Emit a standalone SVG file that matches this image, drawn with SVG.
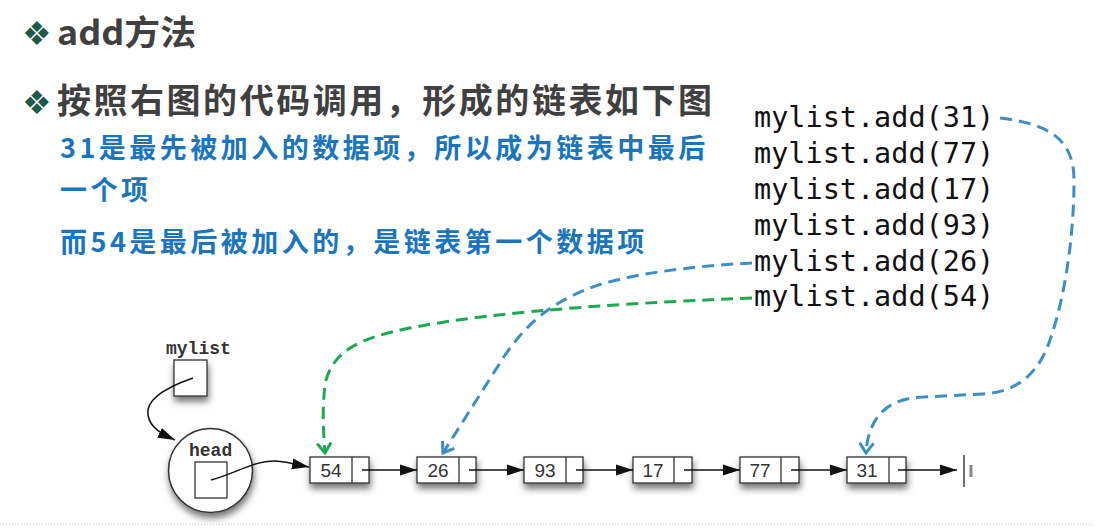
<svg xmlns="http://www.w3.org/2000/svg" width="1095" height="530" viewBox="0 0 1095 530">
  <defs>
    <style>
      .title { font-family: "Noto Sans CJK SC", "Noto Sans", sans-serif; font-weight: bold; fill: #404040; }
      .bullet { font-family: "DejaVu Sans", sans-serif; fill: #1E5A4A; font-size: 33px; }
      .blue { font-family: "Noto Sans CJK SC", sans-serif; font-weight: bold; fill: #1B75BC; font-size: 27px; letter-spacing: 3.5px; }
      .code { font-family: "DejaVu Sans Mono", "Liberation Mono", monospace; fill: #111; font-size: 28.5px; }
      .box { fill: #fff; stroke: #333; stroke-width: 1.3; }
      .num { font-family: "Liberation Sans", Arial, sans-serif; font-size: 19px; fill: #333; text-anchor: middle; }
      .mono { font-family: "Liberation Mono", "Courier New", monospace; font-size: 18px; fill: #333; font-weight: bold; }
      .link { fill: none; stroke: #111; stroke-width: 1.5; }
      .dash { fill: none; stroke-width: 3; stroke-dasharray: 12 7; }
    </style>
    <filter id="shadow" x="-30%" y="-30%" width="160%" height="190%">
      <feDropShadow dx="1" dy="5" stdDeviation="3.5" flood-color="#000" flood-opacity="0.55"/>
    </filter>
    <marker id="arr" markerUnits="userSpaceOnUse" markerWidth="18" markerHeight="14" refX="17" refY="7" orient="auto">
      <path d="M0,1.5 L17,7 L0,12.5 Z" fill="#111"/>
    </marker>
    <marker id="vblue" markerUnits="userSpaceOnUse" markerWidth="14" markerHeight="16" refX="11" refY="8" orient="auto">
      <path d="M1,1 L11,8 L1,15" fill="none" stroke="#3B8FC4" stroke-width="3"/>
    </marker>
    <marker id="vgreen" markerUnits="userSpaceOnUse" markerWidth="14" markerHeight="16" refX="11" refY="8" orient="auto">
      <path d="M1,1 L11,8 L1,15" fill="none" stroke="#1DAA4F" stroke-width="3"/>
    </marker>
  </defs>
  <rect width="1095" height="530" fill="#fff"/>

  <g id="titles">
    <text class="bullet" x="22" y="45">❖</text>
    <text class="title" x="57" y="45" font-size="34" textLength="139" lengthAdjust="spacingAndGlyphs">add方法</text>
    <text class="bullet" x="22" y="114">❖</text>
    <text class="title" x="57" y="113" font-size="34" textLength="655" lengthAdjust="spacing">按照右图的代码调用，形成的链表如下图</text>
  </g>

  <g id="notes">
    <text class="blue" x="60" y="158">31是最先被加入的数据项，所以成为链表中最后</text>
    <text class="blue" x="60" y="200">一个项</text>
    <text class="blue" x="60" y="252">而54是最后被加入的，是链表第一个数据项</text>
  </g>

  <g id="code">
    <text class="code" x="754" y="127">mylist.add(31)</text>
    <text class="code" x="754" y="163">mylist.add(77)</text>
    <text class="code" x="754" y="199">mylist.add(17)</text>
    <text class="code" x="754" y="235">mylist.add(93)</text>
    <text class="code" x="754" y="271">mylist.add(26)</text>
    <text class="code" x="754" y="306">mylist.add(54)</text>
  </g>

  <g id="mylist">
    <text class="mono" x="166" y="354">mylist</text>
    <rect class="box" x="174" y="360" width="33" height="36" filter="url(#shadow)"/>
  </g>

  <g id="head">
    <circle cx="210.5" cy="470.5" r="42" fill="#fff" stroke="#333" stroke-width="1.5" filter="url(#shadow)"/>
    <text class="mono" x="189" y="456">head</text>
    <rect class="box" x="195" y="462" width="32" height="36"/>
  </g>

  <g id="node54">
    <rect class="box" x="310" y="457" width="59" height="26" filter="url(#shadow)"/>
    <line x1="352" y1="457" x2="352" y2="483" stroke="#333" stroke-width="1.3"/>
    <text class="num" x="331" y="477">54</text>
  </g>
  <g id="node26">
    <rect class="box" x="417" y="457" width="59" height="26" filter="url(#shadow)"/>
    <line x1="459" y1="457" x2="459" y2="483" stroke="#333" stroke-width="1.3"/>
    <text class="num" x="438" y="477">26</text>
  </g>
  <g id="node93">
    <rect class="box" x="524" y="457" width="59" height="26" filter="url(#shadow)"/>
    <line x1="566" y1="457" x2="566" y2="483" stroke="#333" stroke-width="1.3"/>
    <text class="num" x="545" y="477">93</text>
  </g>
  <g id="node17">
    <rect class="box" x="633" y="457" width="59" height="26" filter="url(#shadow)"/>
    <line x1="674" y1="457" x2="674" y2="483" stroke="#333" stroke-width="1.3"/>
    <text class="num" x="653" y="477">17</text>
  </g>
  <g id="node77">
    <rect class="box" x="740" y="457" width="59" height="26" filter="url(#shadow)"/>
    <line x1="781" y1="457" x2="781" y2="483" stroke="#333" stroke-width="1.3"/>
    <text class="num" x="760" y="477">77</text>
  </g>
  <g id="node31">
    <rect class="box" x="847" y="457" width="59" height="26" filter="url(#shadow)"/>
    <line x1="889" y1="457" x2="889" y2="483" stroke="#333" stroke-width="1.3"/>
    <text class="num" x="867" y="477">31</text>
  </g>

  <g id="ground">
    <line x1="964" y1="455" x2="964" y2="487" stroke="#6a6a8a" stroke-width="2"/>
    <line x1="971" y1="465" x2="971" y2="477" stroke="#888" stroke-width="3"/>
  </g>

  <g id="connectors">
    <path class="link" d="M193,378 C170,386 145,398 148,415 C150,428 162,434 175,440" marker-end="url(#arr)"/>
    <path class="link" d="M211,480 C235,474 255,460 275,461 C290,462 298,465 309,467" marker-end="url(#arr)"/>
    <line class="link" x1="362" y1="470" x2="417" y2="470" marker-end="url(#arr)"/>
    <line class="link" x1="469" y1="470" x2="524" y2="470" marker-end="url(#arr)"/>
    <line class="link" x1="576" y1="470" x2="633" y2="470" marker-end="url(#arr)"/>
    <line class="link" x1="684" y1="470" x2="740" y2="470" marker-end="url(#arr)"/>
    <line class="link" x1="791" y1="470" x2="847" y2="470" marker-end="url(#arr)"/>
    <line class="link" x1="898" y1="470" x2="957" y2="470" marker-end="url(#arr)"/>

    <path class="dash" stroke="#3B8FC4" d="M1000,118 C1050,124 1074,140 1074,180 C1074,240 1064,300 1050,340 C1040,370 1020,392 983,394 L923,397 C885,398 868,420 866,453" marker-end="url(#vblue)"/>
    <path class="dash" stroke="#3B8FC4" d="M752,263 C690,266 620,275 585,290 C550,305 530,320 505,355 L443,453" marker-end="url(#vblue)"/>
    <path class="dash" stroke="#1DAA4F" d="M752,298 C650,302 500,310 410,328 C360,338 335,350 326,380 C322,400 323,430 325,453" marker-end="url(#vgreen)"/>
  </g>

  <line id="footer" x1="0" y1="524.5" x2="1095" y2="524.5" stroke="#d0d0d0" stroke-width="1" stroke-dasharray="1 2"/>
</svg>
